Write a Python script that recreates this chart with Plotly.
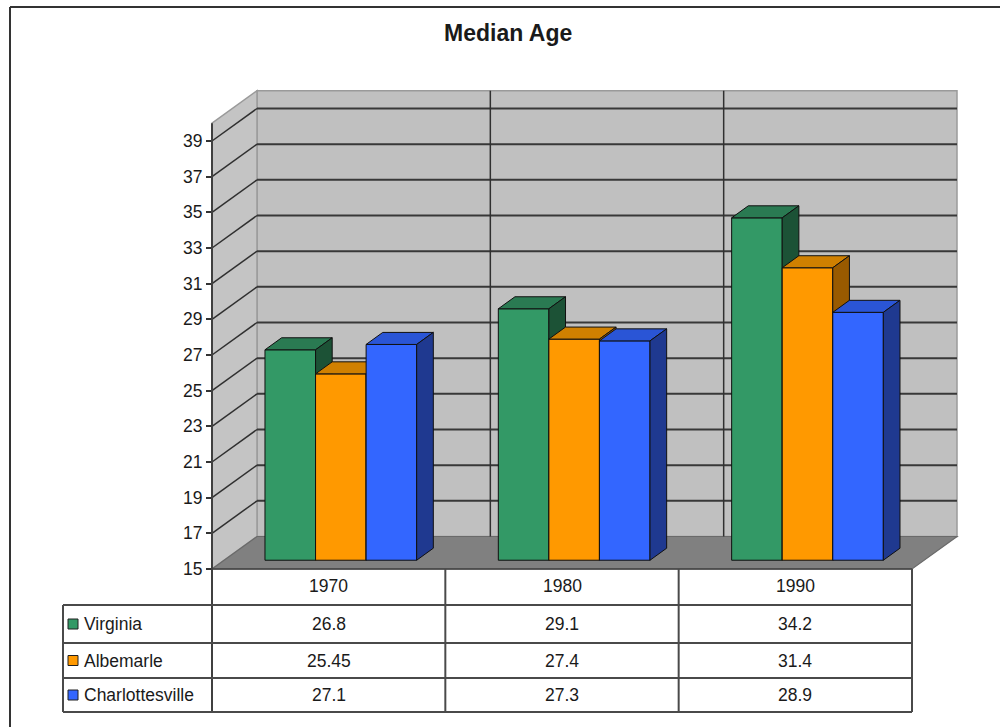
import plotly.graph_objects as go

# ---------------- data ----------------
years = ["1970", "1980", "1990"]
series_names = ["Virginia", "Albemarle", "Charlottesville"]
virginia = [26.8, 29.1, 34.2]
albemarle = [25.45, 27.4, 31.4]
charlottesville = [27.1, 27.3, 28.9]
y_ticks = [15, 17, 19, 21, 23, 25, 27, 29, 31, 33, 35, 37, 39]
y_min = 15
y_wall_top = 40

values = [virginia, albemarle, charlottesville]
front_col = ["#339966", "#ff9900", "#3366ff"]
top_col = ["#2a7a52", "#d08000", "#2a55d6"]
side_col = ["#1c5236", "#995a00", "#1f3990"]

# ---------------- geometry (pixel layout -> data units) ----------------
W, H = 1000, 727
X0, CW = 212, 700 / 3          # front plane: category 0 at x=212, 233.3 px per category
Y15, PU = 569, 428 / 24        # front plane: value 15 at y=569, px per value unit


def xd(px):
    return (px - X0) / CW


def yd(py):
    return y_min + (Y15 - py) / PU


DX = 45 / CW      # wall depth in x units
DY = 32.5 / PU    # wall depth in value units
GAP = 0.175       # gap at each side of a category
BW = 0.2167       # bar width
F0, F1 = 0.27, 0.64  # bar front / back depth fractions

FONT = "Liberation Sans, Arial, sans-serif"
TXT = "#1a1a1a"
FS = 17.5
ncat = len(years)

shapes = []


def path(pts):
    return "M " + " L ".join(f"{x},{y}" for x, y in pts) + " Z"


# back wall
shapes.append(dict(type="path", layer="below", xref="x", yref="y",
                   path=path([(DX, y_min + DY), (ncat + DX, y_min + DY),
                              (ncat + DX, y_wall_top + DY), (DX, y_wall_top + DY)]),
                   fillcolor="#c0c0c0", line=dict(color="#9a9a9a", width=1.5)))
# left wall
shapes.append(dict(type="path", layer="below", xref="x", yref="y",
                   path=path([(0, y_min), (0, y_wall_top), (DX, y_wall_top + DY), (DX, y_min + DY)]),
                   fillcolor="#c4c4c4", line=dict(color="#9a9a9a", width=1.5)))
# floor
shapes.append(dict(type="path", layer="below", xref="x", yref="y",
                   path=path([(0, y_min), (ncat, y_min), (ncat + DX, y_min + DY), (DX, y_min + DY)]),
                   fillcolor="#808080", line=dict(color="#6a6a6a", width=1.2)))
# gridlines
for v in y_ticks[1:]:
    shapes.append(dict(type="line", layer="below", xref="x", yref="y",
                       x0=0, y0=v, x1=DX, y1=v + DY, line=dict(color="#303030", width=1.5)))
    shapes.append(dict(type="line", layer="below", xref="x", yref="y",
                       x0=DX, y0=v + DY, x1=ncat + DX, y1=v + DY, line=dict(color="#383838", width=2)))
# category dividers on back wall
for i in range(1, ncat):
    shapes.append(dict(type="line", layer="below", xref="x", yref="y",
                       x0=i + DX, y0=y_min + DY, x1=i + DX, y1=y_wall_top + DY,
                       line=dict(color="#303030", width=1.5)))

# axis line (front-left edge down through table)
shapes.append(dict(type="line", xref="x", yref="y", x0=0, y0=y_wall_top, x1=0, y1=yd(712),
                   line=dict(color="#404040", width=2)))
# floor front edge
shapes.append(dict(type="line", xref="x", yref="y", x0=0, y0=y_min, x1=ncat, y1=y_min,
                   line=dict(color="#404040", width=1.5)))

# table lines
tbl_left = xd(63)
row_lines = [605, 643, 678, 712]
for py in row_lines:
    shapes.append(dict(type="line", xref="x", yref="y", x0=tbl_left, y0=yd(py), x1=ncat, y1=yd(py),
                       line=dict(color="#4a4a4a", width=2)))
shapes.append(dict(type="line", xref="x", yref="y", x0=tbl_left, y0=yd(605), x1=tbl_left, y1=yd(712),
                   line=dict(color="#4a4a4a", width=2)))
for i in range(1, ncat + 1):
    shapes.append(dict(type="line", xref="x", yref="y", x0=i, y0=y_min, x1=i, y1=yd(712),
                       line=dict(color="#4a4a4a", width=2)))

# outer frame (top & left visible)
shapes.append(dict(type="line", xref="paper", yref="paper", x0=10 / W, y0=1 - 7 / H, x1=1, y1=1 - 7 / H,
                   line=dict(color="#333333", width=2)))
shapes.append(dict(type="line", xref="paper", yref="paper", x0=10 / W, y0=1 - 7 / H, x1=10 / W, y1=0,
                   line=dict(color="#333333", width=2)))

fig = go.Figure()

# ---------------- bars (3-D faces) ----------------
for i in range(ncat):
    for j, vals in enumerate(values):
        v = vals[i]
        xl = i + GAP + j * BW
        xr = xl + BW
        ox0, oy0 = F0 * DX, F0 * DY
        ox1, oy1 = F1 * DX, F1 * DY
        faces = [
            ([xl + ox0, xr + ox0, xr + ox0, xl + ox0, xl + ox0],
             [y_min + oy0, y_min + oy0, v + oy0, v + oy0, y_min + oy0], front_col[j]),
            ([xl + ox0, xr + ox0, xr + ox1, xl + ox1, xl + ox0],
             [v + oy0, v + oy0, v + oy1, v + oy1, v + oy0], top_col[j]),
            ([xr + ox0, xr + ox1, xr + ox1, xr + ox0, xr + ox0],
             [y_min + oy0, y_min + oy1, v + oy1, v + oy0, y_min + oy0], side_col[j]),
        ]
        for fx, fy, col in faces:
            fig.add_trace(go.Scatter(x=fx, y=fy, mode="lines", fill="toself", fillcolor=col,
                                     line=dict(color="#101010", width=1), hoverinfo="skip",
                                     showlegend=False, name=series_names[j]))

# ---------------- table text ----------------
annotations = []
annotations.append(dict(text="<b>Median Age</b>", x=0.508, y=1 - 33 / H, xref="paper", yref="paper",
                        showarrow=False, font=dict(family=FONT, size=23, color=TXT),
                        xanchor="center", yanchor="middle"))
for i, yr in enumerate(years):
    annotations.append(dict(text=yr, x=i + 0.5, y=yd(586), xref="x", yref="y", showarrow=False,
                            font=dict(family=FONT, size=FS, color=TXT), xanchor="center", yanchor="middle"))
row_centers = [624, 660.5, 695]
for j, name in enumerate(series_names):
    yc = yd(row_centers[j])
    annotations.append(dict(text=name, x=xd(82), y=yc, xref="x", yref="y", showarrow=False,
                            font=dict(family=FONT, size=FS, color=TXT), xanchor="left", yanchor="middle"))
    shapes.append(dict(type="rect", xref="x", yref="y", x0=xd(68), x1=xd(78),
                       y0=yc - 5 / PU, y1=yc + 5 / PU, fillcolor=front_col[j],
                       line=dict(color="#202020", width=1)))
    for i in range(ncat):
        annotations.append(dict(text=f"{values[j][i]:g}", x=i + 0.5, y=yc, xref="x", yref="y",
                                showarrow=False, font=dict(family=FONT, size=FS, color=TXT),
                                xanchor="center", yanchor="middle"))

fig.update_layout(
    width=W, height=H, margin=dict(l=0, r=0, t=0, b=0),
    paper_bgcolor="white", plot_bgcolor="white",
    shapes=shapes, annotations=annotations, showlegend=False,
    xaxis=dict(range=[xd(0), xd(W)], visible=False, fixedrange=True),
    yaxis=dict(range=[yd(H), yd(0)], anchor="free", position=X0 / W, automargin=False,
               tickvals=y_ticks, ticktext=[str(t) for t in y_ticks],
               ticks="outside", ticklen=6, tickcolor="#333333", tickwidth=1.5,
               showgrid=False, zeroline=False, showline=False, fixedrange=True,
               tickfont=dict(family=FONT, size=FS, color=TXT)),
)

fig.write_html("out.html")
